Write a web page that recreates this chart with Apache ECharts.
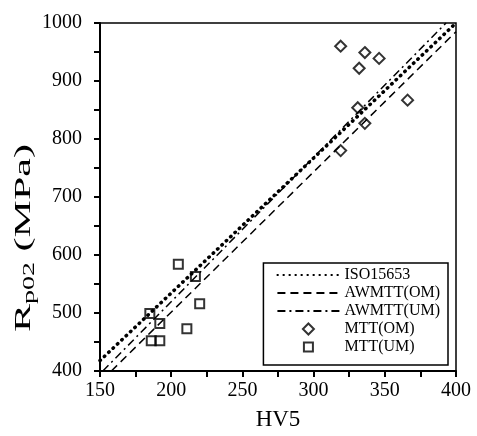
<!DOCTYPE html>
<html>
<head>
<meta charset="utf-8">
<script src="https://cdn.jsdelivr.net/npm/echarts@6/dist/echarts.min.js"></script>
<style>html,body{margin:0;padding:0;background:#fff}#c{width:477px;height:436px}</style>
</head>
<body>
<div id="c"></div>
<script>
// Data
const xTicks = [150, 200, 250, 300, 350, 400];
const yTicks = [400, 500, 600, 700, 800, 900, 1000];
const isoLine = [[150, 418], [400, 1000]];
const awmttOM = [[158, 400], [400, 985]];
const awmttUM = [[152, 400], [393, 1000]];
const mttOM = [[319, 960], [336, 949], [346, 939], [332, 922], [331, 854], [336, 827], [366, 867], [319, 780]];
const mttUM = [[205, 584], [217, 563], [220, 516], [185, 499], [192, 482], [211, 473], [186, 452], [192, 452]];
const names = ['ISO15653', 'AWMTT(OM)', 'AWMTT(UM)', 'MTT(OM)', 'MTT(UM)'];

const FONT = 'Liberation Serif';
const chart = echarts.init(document.getElementById('c'), null, {renderer: 'canvas'});
const axisCommon = {
  type: 'value',
  axisLine: {onZero: false, lineStyle: {color: '#000', width: 2}},
  axisTick: {length: 6, lineStyle: {color: '#000', width: 2}},
  minorTick: {show: true, splitNumber: 2, length: 6, lineStyle: {color: '#000', width: 2}},
  splitLine: {show: false},
  axisLabel: {color: '#000', fontSize: 20, fontFamily: FONT, formatter: v => String(v)}
};
const hideSym = {color: 'rgba(0,0,0,0)', borderWidth: 0, opacity: 0};
chart.setOption({
  animation: false,
  backgroundColor: '#fff',
  grid: {left: 100, right: 21, top: 23, bottom: 61, show: true, borderColor: '#000', borderWidth: 1.5},
  xAxis: Object.assign({}, axisCommon, {
    min: xTicks[0], max: xTicks[xTicks.length - 1], interval: 50,
    axisLabel: Object.assign({}, axisCommon.axisLabel, {margin: 10}),
    name: 'HV5', nameLocation: 'middle', nameGap: 37,
    nameTextStyle: {color: '#000', fontSize: 23, fontFamily: FONT}
  }),
  yAxis: Object.assign({}, axisCommon, {
    min: yTicks[0], max: yTicks[yTicks.length - 1], interval: 100,
    axisLabel: Object.assign({}, axisCommon.axisLabel, {margin: 18})
  }),
  graphic: [{
    type: 'text', x: 24, y: 238, rotation: Math.PI / 2, scaleX: 1.75, scaleY: 1,
    style: {
      text: '{r|R}{s|p02}{r| (MPa)}', align: 'center', verticalAlign: 'middle',
      fill: '#000', fontFamily: FONT,
      rich: {
        r: {fontSize: 24, fontFamily: FONT, fill: '#000', color: '#000'},
        s: {fontSize: 16, fontFamily: FONT, fill: '#000', color: '#000', padding: [12, 0, 0, 0]}
      }
    }
  }],
  legend: {
    orient: 'vertical', right: 29, bottom: 71,
    backgroundColor: '#fff', borderColor: '#000', borderWidth: 1.5, borderRadius: 0,
    padding: [4, 8, 10, 13], itemGap: 2, itemWidth: 62, itemHeight: 14,
    textStyle: {color: '#000', fontSize: 16, fontFamily: FONT},
    data: [
      {name: names[0], itemStyle: hideSym},
      {name: names[1], itemStyle: hideSym},
      {name: names[2], itemStyle: hideSym},
      {name: names[3], icon: 'path://M0,0M14,14M7,1.5L12.5,7L7,12.5L1.5,7Z'},
      {name: names[4], icon: 'path://M0,0M14,14M2.5,2.5L11.5,2.5L11.5,11.5L2.5,11.5Z'}
    ]
  },
  series: [
    {name: names[0], type: 'line', data: isoLine, symbol: 'none', z: 3,
     lineStyle: {color: '#000', width: 3.5, type: [0.5, 5.5], cap: 'round'}, itemStyle: {color: '#000'}},
    {name: names[1], type: 'line', data: awmttOM, symbol: 'none', z: 3,
     lineStyle: {color: '#000', width: 1.5, type: [8, 5]}, itemStyle: {color: '#000'}},
    {name: names[2], type: 'line', data: awmttUM, symbol: 'none', z: 3,
     lineStyle: {color: '#000', width: 1.5, type: [8, 4, 2, 4]}, itemStyle: {color: '#000'}},
    {name: names[3], type: 'scatter', data: mttOM, symbol: 'diamond', symbolSize: 11, z: 4,
     itemStyle: {color: 'rgba(0,0,0,0)', borderColor: '#000', borderWidth: 2}},
    {name: names[4], type: 'scatter', data: mttUM, symbol: 'rect', symbolSize: 9, z: 4,
     itemStyle: {color: 'rgba(0,0,0,0)', borderColor: '#000', borderWidth: 2}}
  ]
});
</script>
</body>
</html>
